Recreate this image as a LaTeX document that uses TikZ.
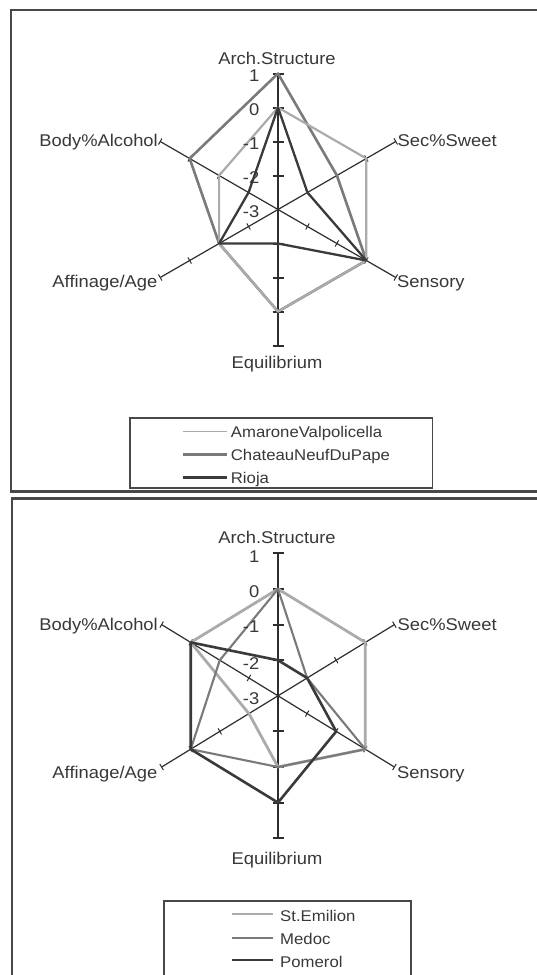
\documentclass[tikz,border=0pt]{standalone}
\usepackage{fontspec}
\setmainfont{Liberation Sans}[FakeStretch=1.08]
\usetikzlibrary{calc}
\definecolor{lightS}{HTML}{ABABAB}
\definecolor{midS}{HTML}{7A7A7A}
\definecolor{darkS}{HTML}{3A3A3A}
\definecolor{axisC}{HTML}{2E2E2E}
\definecolor{txtC}{HTML}{383838}
\definecolor{frameC}{HTML}{484848}
\newcommand{\drawradaraxes}{%
  \foreach \a in {30,-30,150,210} {
    \draw[daxis] (0,0) -- (\a:4);
    \foreach \r in {1,2,3,4}
      \draw[dtick] ($(\a:\r)+(\a+90:3.5pt)$) -- ($(\a:\r)+(\a-90:3.5pt)$);
  }
  \draw[vaxis] (90:4) -- (-90:4);
  \foreach \r in {1,2,3,4} {
    \draw[vtick] ($(90:\r)+(-5.5pt,0pt)$) -- ($(90:\r)+(5.5pt,0pt)$);
    \draw[vtick] ($(-90:\r)+(-5.5pt,0pt)$) -- ($(-90:\r)+(5.5pt,0pt)$);
  }
}
\begin{document}
\begin{tikzpicture}[x=1pt,y=1pt,
  axislbl/.style={font=\fontsize{17}{20}\selectfont, text=txtC, inner sep=0pt},
  ticklbl/.style={font=\fontsize{17}{20}\selectfont, text=txtC, inner sep=0pt, anchor=east},
  leglbl/.style={font=\fontsize{15.5}{18}\selectfont, text=txtC, inner sep=0pt, anchor=base west},
  frame/.style={draw=frameC, line width=2.2pt},
  legbox/.style={draw=frameC, line width=1.8pt},
  vaxis/.style={draw=axisC, line width=2pt},
  daxis/.style={draw=axisC, line width=1.2pt},
  vtick/.style={draw=axisC, line width=2pt},
  dtick/.style={draw=axisC, line width=1pt},
  serlight/.style={draw=lightS, line width=2.2pt, line join=round},
  serlightthick/.style={draw=lightS, line width=2.8pt, line join=round},
  sermid/.style={draw=midS, line width=2.6pt, line join=round},
  sermidthin/.style={draw=midS, line width=2.1pt, line join=round},
  serdark/.style={draw=darkS, line width=2.3pt, line join=round},
  serdarkthick/.style={draw=darkS, line width=2.6pt, line join=round}
]
\clip (0,0) rectangle (537,-975);
\fill[white] (0,0) rectangle (537,-975);

% ---------- frames ----------
\draw[frame] (11,-10) rectangle (560,-491.5);
\draw[frame] (12,-498.5) rectangle (560,-1000);

% ---------- top chart ----------
\begin{scope}[shift={(278pt,-209.5pt)}, x=34pt, y=34pt]
  \drawradaraxes
  % ChateauNeufDuPape
  \draw[sermid] (90:4) -- (30:2) -- (-30:3) -- (-90:3) -- (210:2) -- (150:3) -- cycle;
  % AmaroneValpolicella
  \draw[serlight] (90:3) -- (30:3) -- (-30:3) -- (-90:3) -- (210:2) -- (150:2) -- cycle;
  % Rioja
  \draw[serdark] (90:3) -- (30:1) -- (-30:3) -- (-90:1) -- (210:2) -- (150:1) -- cycle;
\end{scope}

\node[axislbl, anchor=base] (t-arch) at (277,-64) {Arch.Structure};
\node[axislbl, anchor=base west] (t-sec) at (397.5,-146.5) {Sec\%Sweet};
\node[axislbl, anchor=base west] (t-sens) at (397,-287) {Sensory};
\node[axislbl, anchor=base] (t-eq) at (277,-368) {Equilibrium};
\node[axislbl, anchor=base east] (t-aff) at (157.5,-287) {Affinage/Age};
\node[axislbl, anchor=base east] (t-body) at (158,-146.5) {Body\%Alcohol};

\node[ticklbl] (t-v1) at (259.5,-75.5) {1};
\node[ticklbl] (t-v0) at (259.5,-109.5) {0};
\node[ticklbl] (t-vm1) at (259.5,-143.5) {-1};
\node[ticklbl] (t-vm2) at (259.5,-177.5) {-2};
\node[ticklbl] (t-vm3) at (259.5,-211.5) {-3};

% legend top
\draw[legbox] (130,-417.7) rectangle (432.4,-488);
\draw[draw=lightS, line width=1.6pt] (183.3,-431.5) -- (227.3,-431.5);
\node[leglbl] (t-leg1) at (230.7,-437.5) {AmaroneValpolicella};
\draw[draw=midS, line width=2.4pt] (183.3,-454.5) -- (227.3,-454.5);
\node[leglbl] (t-leg2) at (230.7,-460.5) {ChateauNeufDuPape};
\draw[draw=darkS, line width=2.4pt] (183.3,-477.5) -- (227.3,-477.5);
\node[leglbl] (t-leg3) at (230.7,-483.5) {Rioja};

% ---------- bottom chart ----------
\begin{scope}[shift={(278pt,-695.8pt)}, x=33.6pt, y=35.6pt]
  \drawradaraxes
  % St.Emilion
  \draw[serlightthick] (90:3) -- (30:3) -- (-30:3) -- (-90:2) -- (210:1) -- (150:3) -- cycle;
  % Medoc
  \draw[sermidthin] (90:3) -- (30:1) -- (-30:3) -- (-90:2) -- (210:3) -- (150:2) -- cycle;
  % Pomerol
  \draw[serdarkthick] (90:1) -- (30:1) -- (-30:2) -- (-90:3) -- (210:3) -- (150:3) -- cycle;
\end{scope}

\node[axislbl, anchor=base] (b-arch) at (277,-543.3) {Arch.Structure};
\node[axislbl, anchor=base west] (b-sec) at (397.5,-630) {Sec\%Sweet};
\node[axislbl, anchor=base west] (b-sens) at (397,-778) {Sensory};
\node[axislbl, anchor=base] (b-eq) at (277,-864) {Equilibrium};
\node[axislbl, anchor=base east] (b-aff) at (157.5,-778.5) {Affinage/Age};
\node[axislbl, anchor=base east] (b-body) at (158,-630) {Body\%Alcohol};

\node[ticklbl] (b-v1) at (259.5,-556.7) {1};
\node[ticklbl] (b-v0) at (259.5,-591.7) {0};
\node[ticklbl] (b-vm1) at (259.5,-626.7) {-1};
\node[ticklbl] (b-vm2) at (259.5,-663.3) {-2};
\node[ticklbl] (b-vm3) at (259.5,-698.3) {-3};

% legend bottom
\draw[legbox] (164,-900.7) rectangle (411.3,-990);
\draw[draw=lightS, line width=2.6pt] (231.7,-914) -- (273.3,-914);
\node[leglbl] (b-leg1) at (280,-921) {St.Emilion};
\draw[draw=midS, line width=1.8pt] (231.7,-938) -- (273.3,-938);
\node[leglbl] (b-leg2) at (280,-944.5) {Medoc};
\draw[draw=darkS, line width=2.6pt] (231.7,-960) -- (273.3,-960);
\node[leglbl] (b-leg3) at (280,-967) {Pomerol};
\end{tikzpicture}
\end{document}
